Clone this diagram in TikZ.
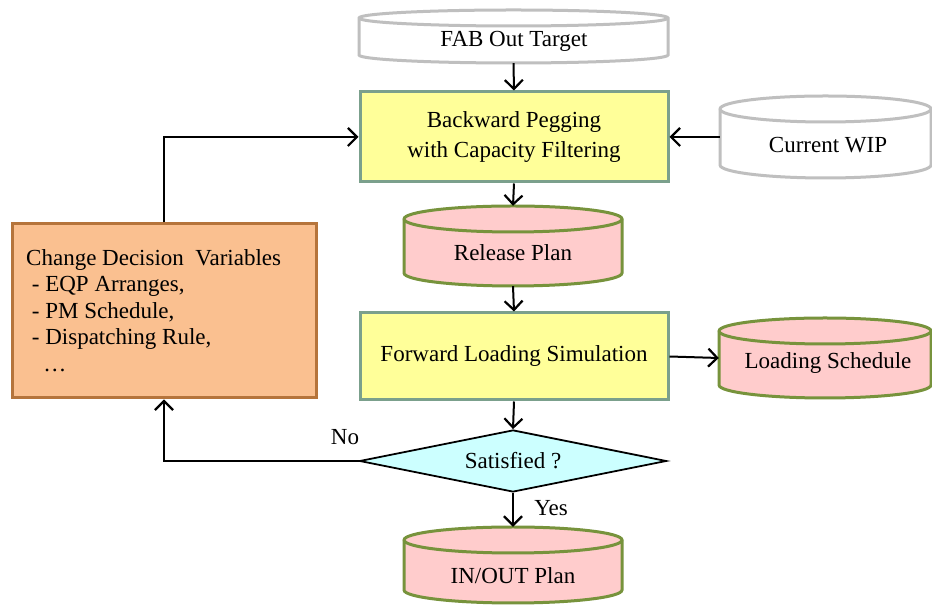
\documentclass[tikz,border=0pt]{standalone}
\usepackage{fontspec}
\setmainfont{Liberation Serif}
\usetikzlibrary{arrows.meta,shapes.geometric}
\definecolor{boxfill}{HTML}{FFFF99}
\definecolor{boxline}{HTML}{7BA08C}
\definecolor{pinkfill}{HTML}{FFCCCC}
\definecolor{oliveline}{HTML}{77933C}
\definecolor{grayline}{HTML}{BFBFBF}
\definecolor{dmdfill}{HTML}{CCFFFF}
\definecolor{orfill}{HTML}{FAC090}
\definecolor{orline}{HTML}{B5743B}
\tikzset{
  txt/.style={font=\fontsize{23}{26.5}\selectfont, inner sep=0pt},
  procbox/.style={draw=boxline, fill=boxfill, line width=3pt, inner sep=0pt, align=center, font=\fontsize{23}{30}\selectfont},
  pinkcyl/.style={draw=oliveline, fill=pinkfill, line width=3pt},
  graycyl/.style={draw=grayline, fill=white, line width=3pt},
  arr/.style={line width=2pt, -{Straight Barb[length=9pt,width=18pt,line width=2.2pt]}},
}
\newcommand\mycyl[7]{%
  \pgfmathsetmacro\cx{(#3+#4)/2}%
  \pgfmathsetmacro\rx{(#4-#3)/2}%
  \pgfmathsetmacro\cy{(#5+#6)/2}%
  \pgfmathsetmacro\cw{#4-#3}%
  \pgfmathsetmacro\ch{#5-#6}%
  \path[#2] (#3,#5-#7) -- (#3,#6+#7)
     arc[start angle=180,end angle=360,x radius=\rx,y radius=#7]
     -- (#4,#5-#7)
     arc[start angle=0,end angle=180,x radius=\rx,y radius=#7] -- cycle;
  \path[#2,fill=none] (#3,#5-#7) arc[start angle=180,end angle=360,x radius=\rx,y radius=#7];
  \node[inner sep=0pt, minimum width=\cw pt, minimum height=\ch pt] (#1) at (\cx,\cy) {};
}
\begin{document}
\begin{tikzpicture}[x=1pt,y=1pt]
\useasboundingbox[fill=white] (0,0) rectangle (932,607);

% cylinders
\mycyl{fab}{graycyl}{359}{668}{597}{544}{8}
\node[txt] (fabtext) at (514,566) {FAB Out Target};

\mycyl{wip}{graycyl}{720}{931}{511}{429}{13}
\node[txt] (wiptext) at (828,462) {Current WIP};

\mycyl{rel}{pinkcyl}{404}{622}{401}{321}{13}
\node[txt] (reltext) at (513,354) {Release Plan};

\mycyl{lds}{pinkcyl}{719}{931}{289}{209}{13}
\node[txt] (ldstext) at (828,244) {Loading Schedule};

\mycyl{iop}{pinkcyl}{404}{622}{80}{4}{13}
\node[txt] (ioptext) at (513,31) {IN/OUT Plan};

% process boxes
\node[procbox, minimum width=308pt, minimum height=90pt] (back) at (514,470)
  {Backward Pegging\\with Capacity Filtering};
\node[procbox, minimum width=308pt, minimum height=87pt] (fwd) at (514,250.5)
  {Forward Loading Simulation};

% decision
\node[diamond, aspect=4.95, draw=black, fill=dmdfill, line width=1.8pt, inner sep=0pt,
      minimum width=307pt, minimum height=62pt, font=\fontsize{23}{26}\selectfont] (sat) at (513,146) {Satisfied ?};

% change box
\node[draw=orline, fill=orfill, line width=3pt, minimum width=304pt, minimum height=174pt, inner sep=0pt] (chg) at (164,296) {};
\node[txt, align=left, anchor=north west] (chgtext) at (26,358)
  {Change Decision\ \ Variables\\
   \ - EQP Arranges,\\
   \ - PM Schedule,\\
   \ - Dispatching Rule,\\
   \ \ \ \dots};

% connectors
\draw[arr] (fab.south) -- (back.north);
\draw[arr] (back.south) -- (rel.north);
\draw[arr] (rel.south) -- (fwd.north);
\draw[arr] (wip.west) -- (back.east);
\draw[arr] (fwd.east) -- (lds.west);
\draw[arr] (fwd.south) -- (sat.north);
\draw[arr] (sat.south) -- (iop.north);
\draw[arr] (sat.west) -| (chg.south);
\draw[arr] (chg.north) |- (back.west);

\node[txt] (nolbl) at (345,170) {No};
\node[txt] (yeslbl) at (551,99) {Yes};
\end{tikzpicture}
\end{document}
